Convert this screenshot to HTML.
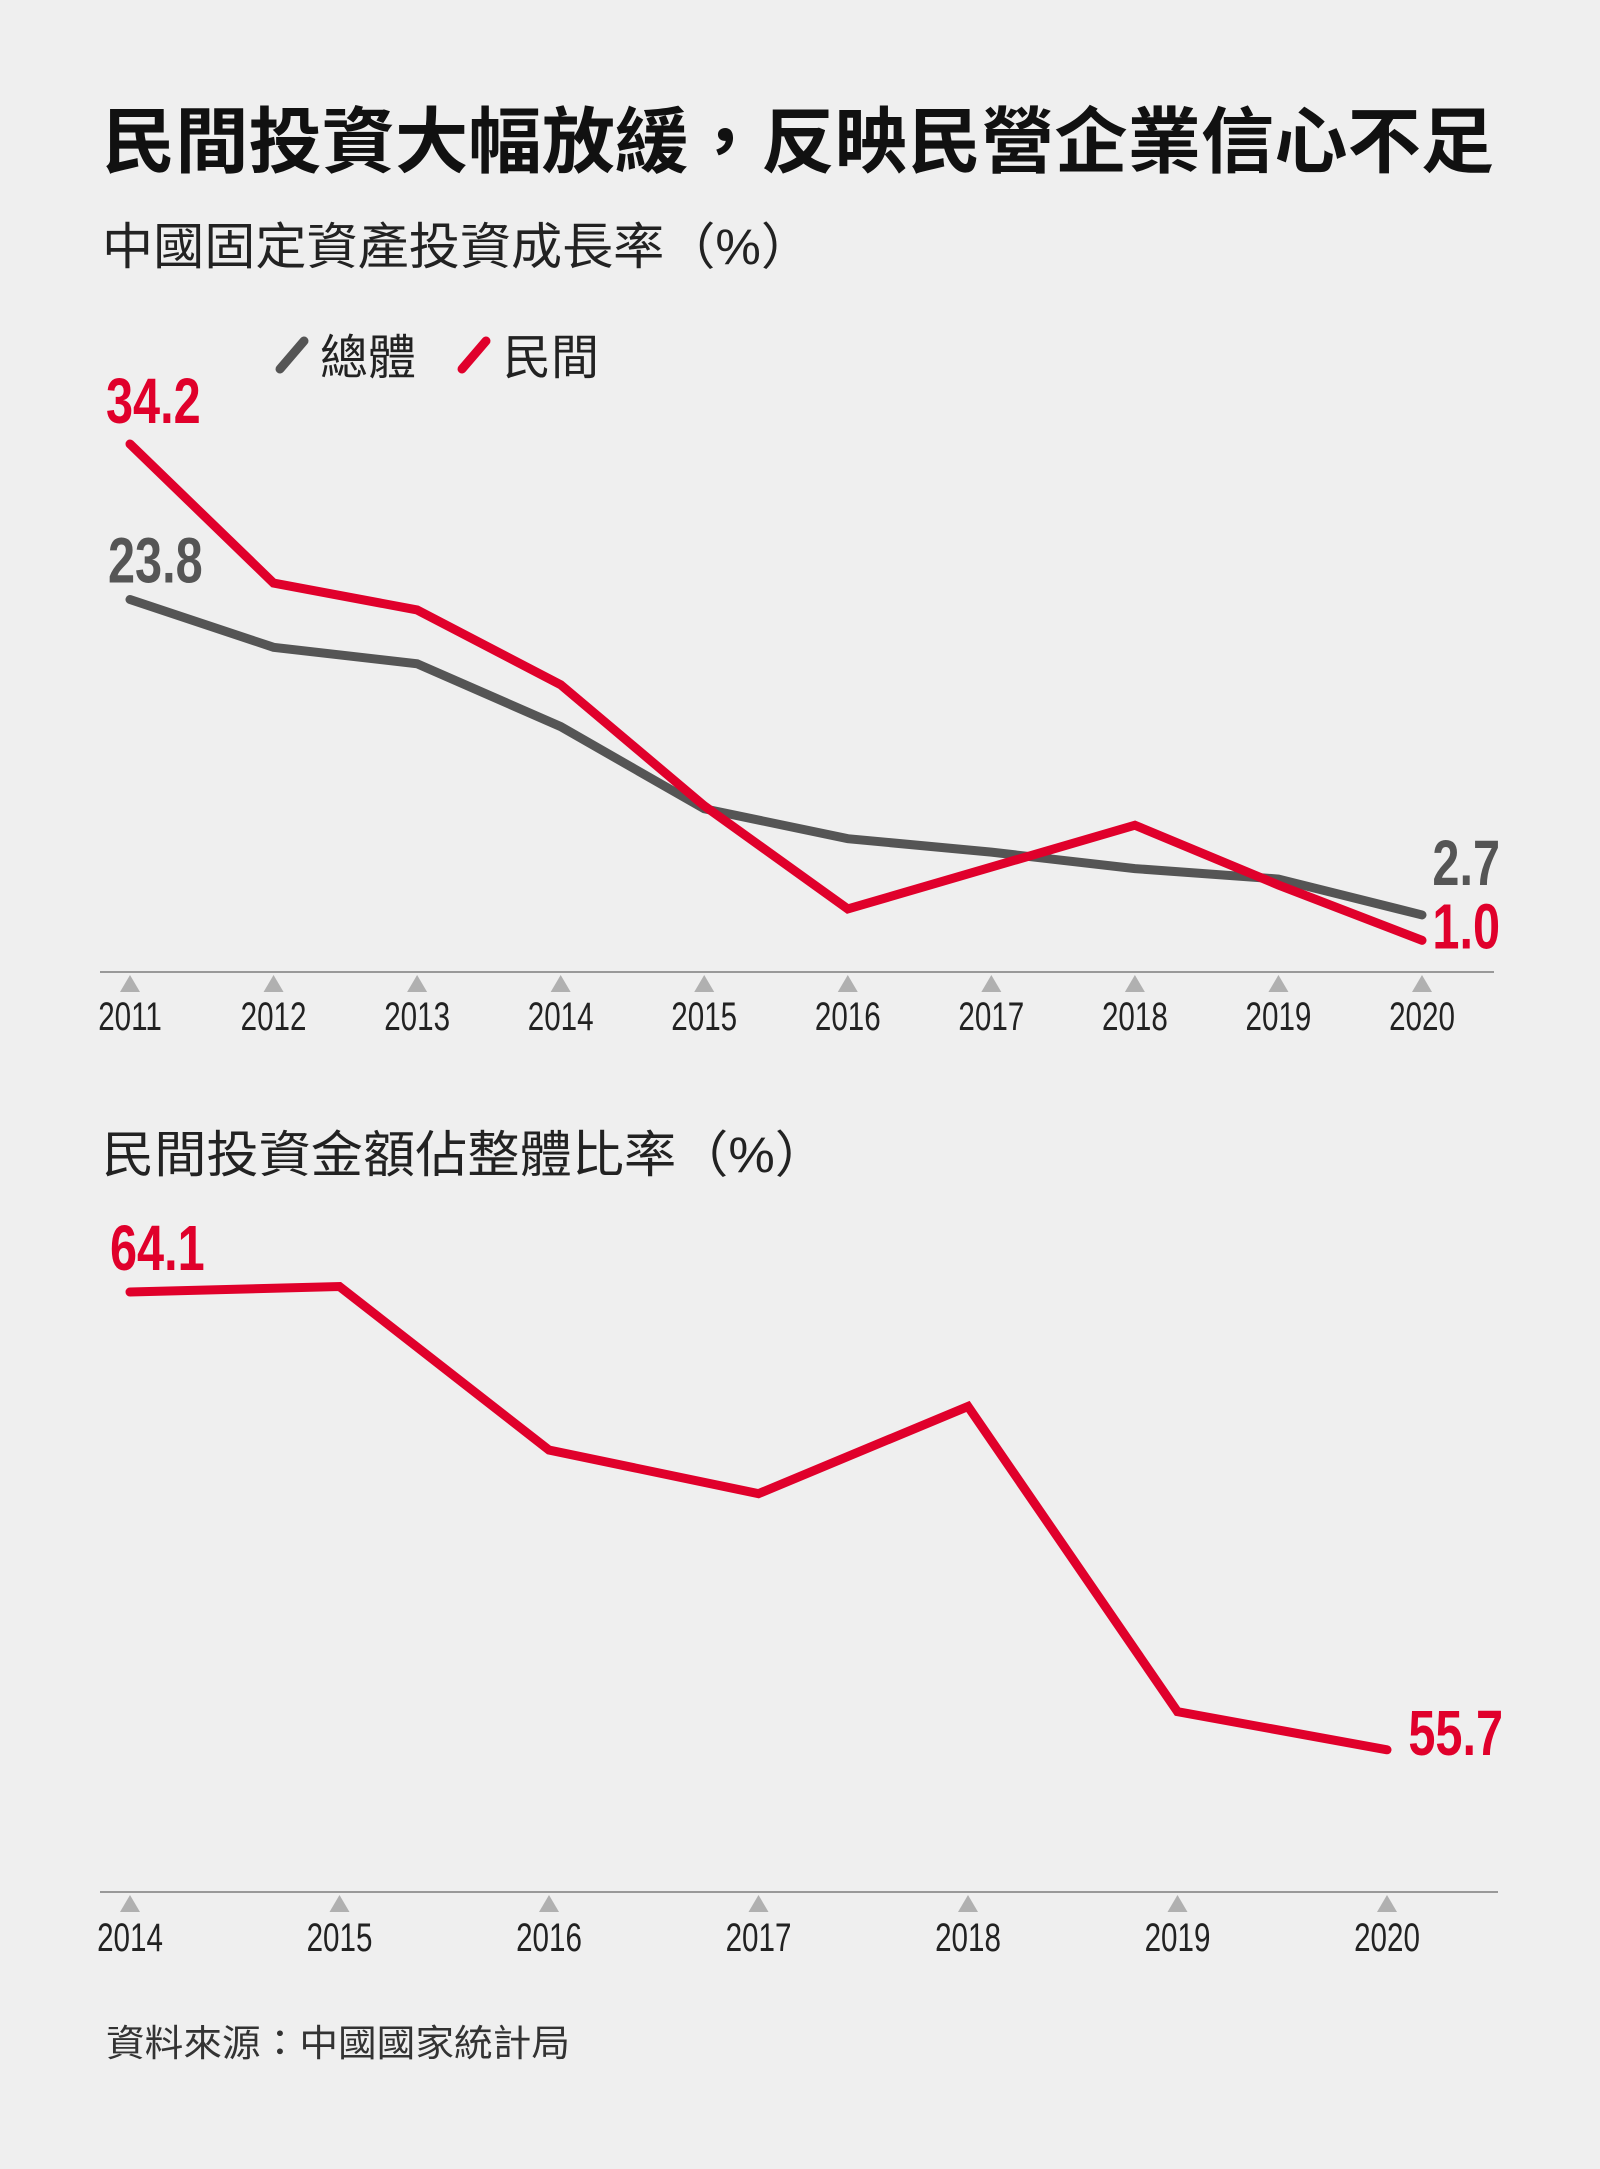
<!DOCTYPE html>
<html><head><meta charset="utf-8">
<style>
html,body{margin:0;padding:0;background:#efefef;}
svg{display:block;}
text{font-family:"Liberation Sans","Noto Sans CJK TC",sans-serif;}
</style></head>
<body>
<svg id="svg" width="1600" height="2169" viewBox="0 0 1600 2169" xmlns="http://www.w3.org/2000/svg">
<rect width="1600" height="2169" fill="#efefef"/>
<text x="102" y="167" font-size="72" font-weight="bold" fill="#111" textLength="1392" lengthAdjust="spacingAndGlyphs">民間投資大幅放緩，反映民營企業信心不足</text>
<text x="102" y="264" font-size="50" fill="#222" textLength="710" lengthAdjust="spacingAndGlyphs">中國固定資產投資成長率（%）</text>
<g>
<line x1="280" y1="369" x2="304" y2="341" stroke="#555" stroke-width="9" stroke-linecap="round"/>
<text x="320" y="374" font-size="48" fill="#222">總體</text>
<line x1="462" y1="369" x2="486" y2="341" stroke="#e0002b" stroke-width="9" stroke-linecap="round"/>
<text x="503" y="374" font-size="48" fill="#222">民間</text>
</g>
<text x="102" y="1172" font-size="50" fill="#222" textLength="725" lengthAdjust="spacingAndGlyphs">民間投資金額佔整體比率（%）</text>
<text x="106" y="2056" font-size="37" fill="#333" textLength="464" lengthAdjust="spacingAndGlyphs">資料來源：中國國家統計局</text>
<g id="c1"></g>
<g id="c2"></g>
</svg>
<script>
const years1 = ["2011","2012","2013","2014","2015","2016","2017","2018","2019","2020"];
const totalGrowth = [23.8,20.6,19.5,15.3,9.8,7.8,6.9,5.8,5.1,2.7];
const privateGrowth = [34.2,24.9,23.1,18.1,10.0,3.1,5.9,8.7,4.7,1.0];
const years2 = ["2014","2015","2016","2017","2018","2019","2020"];
const privateShare = [64.1,64.2,61.2,60.4,62.0,56.4,55.7];

const NS="http://www.w3.org/2000/svg";
function mk(tag,attrs,parent){const e=document.createElementNS(NS,tag);for(const k in attrs)e.setAttribute(k,attrs[k]);parent.appendChild(e);return e;}

const x1=i=>130+i*(1422-130)/(years1.length-1);
const y1=v=>955.3-v*14.95;
const c1=document.getElementById('c1');
const ax1=mk('line',{x1:100,y1:972,x2:1494,y2:972,stroke:'#999','stroke-width':2},c1);


years1.forEach((yr,i)=>{
  const t=mk('path',{d:`M${x1(i)-10} 992 L${x1(i)+10} 992 L${x1(i)} 975 Z`,fill:'#b0b0b0'},c1);
  
  
  const l=mk('text',{transform:`translate(${x1(i)},1030) scale(0.74,1)`,'text-anchor':'middle','font-size':40,fill:'#222'},c1);
  l.textContent=yr;
  
  
});
function line(parent,arr,xf,yf,color,name){
  const p=mk('polyline',{points:arr.map((v,i)=>xf(i)+','+yf(v)).join(' '),fill:'none',stroke:color,'stroke-width':9,'stroke-linejoin':'miter','stroke-linecap':'round'},parent);
  
  
}
line(c1,totalGrowth,x1,y1,'#555','total-growth-line');
line(c1,privateGrowth,x1,y1,'#e0002b','private-growth-line');
function lab(parent,x,y,txt,color,anchor,name){
  const t=mk('text',{transform:`translate(${x},${y}) scale(0.76,1)`,'text-anchor':anchor,'font-size':64,'font-weight':'bold',fill:color},parent);
  t.textContent=txt;
  
  
}
const n1=years1.length-1;
lab(c1,106,y1(privateGrowth[0])-21,privateGrowth[0].toFixed(1),'#e0002b','start','label-private-first');
lab(c1,108,y1(totalGrowth[0])-17,totalGrowth[0].toFixed(1),'#555','start','label-total-first');
lab(c1,1500,y1(totalGrowth[n1])-30,totalGrowth[n1].toFixed(1),'#555','end','label-total-last');
lab(c1,1500,y1(privateGrowth[n1])+8,privateGrowth[n1].toFixed(1),'#e0002b','end','label-private-last');

const x2=i=>130+i*(1387-130)/(years2.length-1);
const y2=v=>1292+(64.1-v)*54.5;
const c2=document.getElementById('c2');
const ax2=mk('line',{x1:100,y1:1892,x2:1498,y2:1892,stroke:'#999','stroke-width':2},c2);


years2.forEach((yr,i)=>{
  const t=mk('path',{d:`M${x2(i)-10} 1912 L${x2(i)+10} 1912 L${x2(i)} 1895 Z`,fill:'#b0b0b0'},c2);
  
  
  const l=mk('text',{transform:`translate(${x2(i)},1951) scale(0.74,1)`,'text-anchor':'middle','font-size':40,fill:'#222'},c2);
  l.textContent=yr;
  
  
});
line(c2,privateShare,x2,y2,'#e0002b','private-share-line');
const n2=years2.length-1;
lab(c2,110,y2(privateShare[0])-22,privateShare[0].toFixed(1),'#e0002b','start','label-share-first');
lab(c2,1503,y2(privateShare[n2])+5,privateShare[n2].toFixed(1),'#e0002b','end','label-share-last');
</script>
</body></html>
